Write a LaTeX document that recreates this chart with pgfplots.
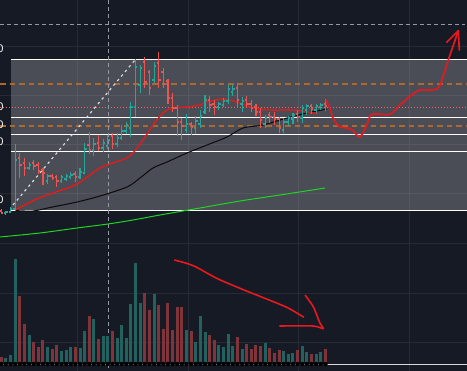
\documentclass[border=0pt]{standalone}
\usepackage{pgfplots}
\pgfplotsset{compat=1.18}
\usepackage{pgfplotstable}
\usepackage{fontspec}
\setmainfont{Liberation Sans}
\definecolor{bg}{HTML}{161A25}
\definecolor{boxc}{HTML}{4A4C56}
\definecolor{upc}{HTML}{26A69A}
\definecolor{dnc}{HTML}{EF5350}
\definecolor{volup}{HTML}{22615E}
\definecolor{voldn}{HTML}{7E3438}
\definecolor{orng}{HTML}{AE672C}
\definecolor{maRed}{HTML}{E31B1B}
\definecolor{maBlk}{HTML}{0C0C0C}
\definecolor{maGrn}{HTML}{1FD51F}
\definecolor{pen}{HTML}{E8191E}
\definecolor{dashg}{HTML}{9598A1}
\pgfdeclareplotmark{otick}{\pgfpathmoveto{\pgfqpoint{-1.9pt}{0pt}}\pgfpathlineto{\pgfqpoint{0.5pt}{0pt}}\pgfusepathqstroke}
\pgfdeclareplotmark{ctick}{\pgfpathmoveto{\pgfqpoint{-0.5pt}{0pt}}\pgfpathlineto{\pgfqpoint{1.9pt}{0pt}}\pgfusepathqstroke}
% candles: index, open, high, low, close (in picture rows, smaller = higher price)
\pgfplotstableread{
i o h l c
2 213 211 215 212
3 212 207 213 209
4 209 144 211 160
7 168 162 170 165
11 181 174 184 176
14 181 175 183 177
15 179 174 181 176
16 177 172 179 175
18 177 168 179 172
19 173 143 174 149
21 150 138 156 144
23 148 139 152 143
24 146 135 149 140
26 144 133 147 138
27 138 125 140 131
28 131 122 134 125
29 128 102 137 107
30 107 59 117 67
31 85 65 93 68
34 80 62 83 66
41 130 114 133 124
43 128 116 134 121
44 124 110 128 116
45 112 95 114 100
48 107 102 110 104
49 105 98 107 101
50 101 85 104 89
51 92 85 96 89
53 104 97 112 101
58 124 115 128 118
62 130 118 133 122
63 122 116 126 118
64 119 113 124 115
66 118 105 123 108
67 110 104 115 106
69 110 104 113 106
70 107 103 110 105
}\tup
\pgfplotstableread{
i o h l c
1 211 209 214 213
5 158 153 178 165
6 163 158 176 168
8 163 160 170 166
9 165 162 174 171
10 170 168 185 173
12 176 174 180 178
13 177 175 187 181
17 174 171 182 177
20 145 132 154 150
22 143 135 151 148
25 136 133 149 144
32 62 57 88 82
33 72 70 95 88
35 63 52 88 80
36 72 68 88 84
37 81 79 104 98
38 98 93 112 108
39 108 105 136 122
40 122 118 140 126
42 124 122 135 127
46 100 96 112 105
47 104 100 115 107
52 88 83 108 100
54 100 96 108 104
55 104 100 112 108
56 107 104 116 112
57 112 108 128 120
59 115 112 123 117
60 117 112 125 119
61 119 117 133 128
65 114 110 122 117
68 106 104 114 109
71 104 99 111 106
}\tdn
\pgfplotstableread{
i h
2 6
3 9
4 105
7 29
11 17
14 13
15 14
16 17
18 16
19 33
21 45
23 28
24 28
26 26
27 39
28 26
29 60
30 101
31 61
34 70
41 34
43 22
44 48
45 32
48 19
49 17
50 30
51 18
53 15
58 21
62 13
63 10
64 11
66 18
67 12
69 10
70 12
}\vup
\pgfplotstableread{
i h
1 7
5 68
6 40
8 22
9 17
10 24
12 15
13 19
17 17
20 48
22 25
25 33
32 71
33 54
35 59
36 35
37 61
38 34
39 57
40 57
42 33
46 29
47 24
52 27
54 20
55 15
56 19
57 18
59 16
60 11
61 14
65 14
68 10
71 15
}\vdn
\begin{document}
\begin{tikzpicture}
\begin{axis}[name=main, width=467pt, height=371pt, scale only axis,
  xmin=0, xmax=467, ymin=0, ymax=371, y dir=reverse,
  axis lines=none, clip=true, unbounded coords=jump]
% background
\addplot[fill=bg, draw=none] coordinates {(0,0)(467,0)(467,371)(0,371)};
% grey zone
\addplot[fill=boxc, draw=none] coordinates {(11,59)(467,59)(467,210)(11,210)};
% grid
\addplot[white, opacity=0.07, line width=1pt] coordinates {
 (77,0)(77,371) (nan,nan) (188,0)(188,371) (nan,nan) (298,0)(298,371) (nan,nan) (409,0)(409,371) (nan,nan)
 (0,47)(467,47) (nan,nan) (0,96)(467,96) (nan,nan) (0,145)(467,145) (nan,nan) (0,194)(467,194) (nan,nan)
 (0,244)(467,244) (nan,nan) (0,294)(467,294) (nan,nan) (0,343)(467,343)};
% white level lines
\addplot[white, line width=1pt] coordinates {
 (11,59.3)(467,59.3) (nan,nan) (11,117.3)(467,117.3) (nan,nan) (11,134.3)(467,134.3) (nan,nan)
 (11,152)(467,152) (nan,nan) (11,210.5)(467,210.5)};
% orange dashed levels
\addplot[orng, line width=1.5pt, dash pattern=on 5.5pt off 4pt] coordinates {(0,83.8)(467,83.8)};
\addplot[orng, line width=1.5pt, dash pattern=on 5.5pt off 4pt] coordinates {(0,126)(467,126)};
% red dotted level
\addplot[dnc!90!white, line width=0.8pt, dash pattern=on 1pt off 2pt] coordinates {(0,107.3)(467,107.3)};
% top grey dashed
\addplot[dashg, line width=1pt, dash pattern=on 4pt off 3pt] coordinates {(0,24.3)(465,24.3)};
% vertical dashed
\addplot[dashg, line width=1pt, dash pattern=on 4pt off 3pt] coordinates {(108.3,0)(108.3,371)};
% green MA
\addplot[maGrn, line width=1pt, smooth] coordinates {(0,237)(40,233)(77,228)(108,224)(133,220)(160,215)(200,208)(240,201)(280,195)(325,188)};
% black MA
\addplot[maBlk, line width=1pt, smooth] coordinates {(15,210.5)(33,211)(50,207.5)(77,202)(100,196)(127,187)(140,178)(153,168)(167,162)(187,153)(207,145)(227,137)(243,128)(263,125)(287,118)(307,113)(327,109)};
% red MA
\addplot[maRed, line width=1.4pt, smooth] coordinates {(15,210)(36.7,199)(53,193)(73,186)(83,180)(100,168)(110,164)(127,158)(133,153)(143,140)(153,125)(163,113)(172,108)(187,107)(200,105)(207,102)(220,99.3)(230,100)(240,103)(253,108)(270,110)(293,110)(307,112)(318,114)};
% diagonal dashed
\addplot[white!85!black, line width=1.2pt, dash pattern=on 2.5pt off 3.5pt] coordinates {(13,205)(135,60)};
% volume
\addplot[only marks, mark=none, error bars/.cd, y dir=minus, y explicit, error mark=none,
  error bar style={line width=3pt, color=volup}] table[x expr=1.3+4.63*(\thisrow{i}-1), y expr=364, y error=h] \vup;
\addplot[only marks, mark=none, error bars/.cd, y dir=minus, y explicit, error mark=none,
  error bar style={line width=3pt, color=voldn}] table[x expr=1.3+4.63*(\thisrow{i}-1), y expr=364, y error=h] \vdn;
\addplot[white!85!black, line width=1pt] coordinates {(0,364.5)(467,364.5)};
% candles
\addplot[only marks, mark=otick, color=upc, mark options={line width=1.1pt, solid},
  error bars/.cd, y dir=both, y explicit, error mark=none, error bar style={line width=1.1pt, color=upc}]
  table[x expr=1.3+4.63*(\thisrow{i}-1), y=o, y error plus expr=\thisrow{l}-\thisrow{o}, y error minus expr=\thisrow{o}-\thisrow{h}] \tup;
\addplot[only marks, mark=ctick, color=upc, mark options={line width=1.1pt, solid}]
  table[x expr=1.3+4.63*(\thisrow{i}-1), y=c] \tup;
\addplot[only marks, mark=otick, color=dnc, mark options={line width=1.1pt, solid},
  error bars/.cd, y dir=both, y explicit, error mark=none, error bar style={line width=1.1pt, color=dnc}]
  table[x expr=1.3+4.63*(\thisrow{i}-1), y=o, y error plus expr=\thisrow{l}-\thisrow{o}, y error minus expr=\thisrow{o}-\thisrow{h}] \tdn;
\addplot[only marks, mark=ctick, color=dnc, mark options={line width=1.1pt, solid}]
  table[x expr=1.3+4.63*(\thisrow{i}-1), y=c] \tdn;
% hand-drawn projection
\addplot[pen, line width=1.7pt, smooth, tension=0.5] coordinates {(326,100)(330,108.3)(331.7,115)(335,121.7)(340,126.7)(348.3,128.3)(353.3,130.7)(358.3,136.7)(361.7,135)(366.7,125)(370.7,115)(376.7,114)(390,114.3)(400,105)(411.7,95)(420,90)(433.3,90)(440,85)(448.3,60)(458.3,30.7)};
\addplot[pen, line width=1.7pt, line join=round, line cap=round] coordinates {(446.7,42.3)(458.3,30.7)(459.3,50)};
% hand-drawn volume arrow
\addplot[pen, line width=1.6pt, smooth] coordinates {(174.3,260)(193.3,265.7)(216.7,278.3)(240,288.3)(263.3,297.7)(286.7,307.3)(304,317.3)};
\addplot[pen, line width=1.6pt, smooth, tension=0.4, line join=round] coordinates {(279.3,326)(313.3,326)(323.3,328.7)(320,323.3)(313.3,306.7)(305,295)};
% cut-off price labels at the left edge (as in the screenshot)
\node[anchor=east, inner sep=0pt, text=white, font=\fontsize{11}{11}\selectfont] at (axis cs:3.6,48.5) {0};
\node[anchor=east, inner sep=0pt, text=white, font=\fontsize{11}{11}\selectfont] at (axis cs:3.6,107) {0};
\node[anchor=east, inner sep=0pt, text=white, font=\fontsize{11}{11}\selectfont] at (axis cs:3.6,125) {0};
\node[anchor=east, inner sep=0pt, text=white, font=\fontsize{11}{11}\selectfont] at (axis cs:3.6,142) {0};
\node[anchor=east, inner sep=0pt, text=white, font=\fontsize{11}{11}\selectfont] at (axis cs:3.6,200) {0};
\end{axis}
\pgfresetboundingbox
\useasboundingbox (main.south west) rectangle (main.north east);
\end{tikzpicture}
\end{document}
